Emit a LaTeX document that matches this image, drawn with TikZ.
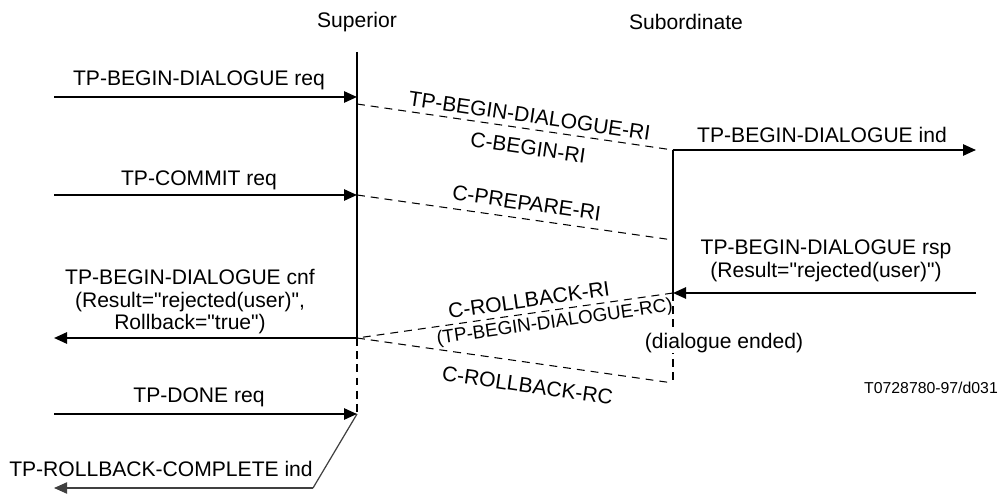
\documentclass[tikz,border=0pt]{standalone}
\usepackage{fontspec}
\setmainfont[Ligatures=TeXOff]{Liberation Sans}
\usetikzlibrary{positioning,arrows.meta}
\tikzset{
  txt/.style={font=\fontsize{12}{12.8}\selectfont,inner sep=1pt,align=center},
  msg/.style={line width=1.1pt,-{Triangle[length=7.4pt,width=6.4pt]}},
  life/.style={line width=1.1pt},
  lifedash/.style={line width=1.1pt,dash pattern=on 4.5pt off 3pt},
  pdu/.style={line width=0.6pt,dash pattern=on 4.5pt off 3.4pt},
  thin line/.style={line width=0.7pt,black!75}
}
\begin{document}
\begin{tikzpicture}[x=0.02cm,y=-0.02cm]
\useasboundingbox (0,0) rectangle (1000,496);
% lifelines
\node (sup) [txt] at (357,22) {Superior};
\node (sub) [txt] at (686,22) {Subordinate};
\coordinate (s0) at (357,52);
\coordinate (s1) at (357,97);
\coordinate (s1b) at (357,104);
\coordinate (s2) at (357,195);
\coordinate (s3) at (357,338);
\coordinate (s4) at (357,414);
\coordinate (b1) at (673,150);
\coordinate (b2) at (673,240);
\coordinate (b3) at (673,293);
\coordinate (b4) at (673,383);
\coordinate (bend) at (313,488);
\coordinate (l1) at (54,97);
\coordinate (l2) at (54,195);
\coordinate (l3) at (54,338);
\coordinate (l4) at (54,414);
\coordinate (l5) at (54,488);
\coordinate (r1) at (976,150);
\coordinate (r3) at (976,293);
\draw[life] (s0) -- (s3);
\draw[lifedash] (s3) -- (s4);
\draw[life] (b1) -- (b3);
\draw[lifedash] (b3) -- (b4);

% primitives
\draw[msg] (l1) -- (s1);
\node (beginreq) [txt] at (199,80) {TP-BEGIN-DIALOGUE req};
\draw[msg] (l2) -- (s2);
\node (commitreq) [txt] at (199,180) {TP-COMMIT req};
\draw[msg] (b1) -- (r1);
\node (beginind) [txt] at (822,135) {TP-BEGIN-DIALOGUE ind};
\draw[msg] (r3) -- (b3);
\node (beginrsp) [txt] at (826,261) {TP-BEGIN-DIALOGUE rsp\\(Result="rejected(user)")};
\draw[msg] (s3) -- (l3);
\node (begincnf) [txt] at (190,302) {TP-BEGIN-DIALOGUE cnf\\(Result="rejected(user)",\\Rollback="true")};
\draw[msg] (l4) -- (s4);
\node (donereq) [txt] at (199,397) {TP-DONE req};
\draw[thin line] (s4) -- (bend);
\draw[thin line,-{Triangle[length=7.4pt,width=6.4pt]}] (bend) -- (l5);
\node (rbind) [txt] at (161,469) {TP-ROLLBACK-COMPLETE ind};

% protocol units
\draw[pdu] (s1b) -- node (bdri) [txt,sloped,above=2pt,pos=0.54] {TP-BEGIN-DIALOGUE-RI}
  node (cbri) [txt,sloped,below=5pt,pos=0.55] {C-BEGIN-RI} (b1);
\draw[pdu] (s2) -- node (cpri) [txt,sloped,above=3.5pt,pos=0.53] {C-PREPARE-RI} (b2);
\draw[pdu] (b3) -- node (crbri) [txt,sloped,above=2pt,pos=0.45] {C-ROLLBACK-RI}
  node (bdrc) [txt,sloped,below=1pt,pos=0.38,font=\fontsize{10.7}{12}\selectfont] {(TP-BEGIN-DIALOGUE-RC)} (s3);
\draw[pdu] (s3) -- node (crbrc) [txt,sloped,below=7.5pt,pos=0.55] {C-ROLLBACK-RC} (b4);
\node (ended) [txt,fill=white,inner sep=0pt] at (724,343) {(dialogue ended)};
\node (fig) [txt,font=\fontsize{9}{10}\selectfont] at (931,388) {T0728780-97/d031};
\end{tikzpicture}
\end{document}
